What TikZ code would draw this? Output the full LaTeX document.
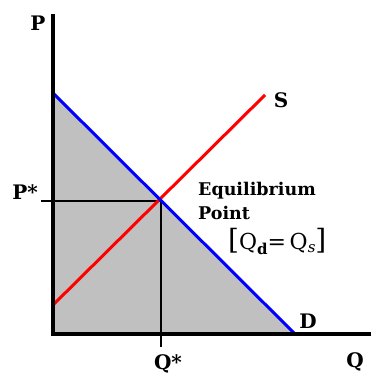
\documentclass[tikz,border=0pt]{standalone}
\usepackage{fontspec}
\setmainfont{DejaVu Serif}
\begin{document}
\begin{tikzpicture}[x=1pt,y=-1pt,
  axis/.style={line width=4pt},
  guide/.style={line width=2.5pt},
  curve/.style={line width=3pt},
  lbl/.style={font=\fontsize{20}{22}\selectfont\bfseries, inner sep=0pt},
  eq/.style={font=\fontsize{17.5}{24}\selectfont\bfseries, inner sep=0pt, align=left}]
\useasboundingbox (0,0) rectangle (371,379);
\coordinate (O) at (53,334);
\coordinate (Ptop) at (53,14);
\coordinate (Qend) at (371,334);
\coordinate (Dtop) at (53,93);
\coordinate (Dbot) at (295,334);
\coordinate (Sbot) at (53,305);
\coordinate (Stop) at (265,95);
\coordinate (E) at (161,201);
\coordinate (Ptick) at (41,201);
\coordinate (Qtick) at (161,347);
\fill[fill={rgb,255:red,192;green,192;blue,192}] (Dtop) -- (O) -- (Dbot) -- cycle;
\draw[guide] (Ptick) -- (E);
\draw[guide] (E) -- (Qtick);
\draw[curve, red] (Sbot) -- (Stop);
\draw[curve, blue] (Dtop) -- (Dbot);
\draw[axis] (Ptop) -- (53,336);
\draw[axis] (51,334) -- (Qend);
\node[lbl] (P) at (38,23) {P};
\node[lbl] (Pstar) at (25,192) {P*};
\node[lbl] (Qstar) at (168,364) {Q*};
\node[lbl] (Q) at (355,362) {Q};
\node[lbl] (D) at (308,321) {D};
\node[lbl] (S) at (281,100) {S};
\node[eq, anchor=base west] (eqlbl) at (198,219) {Equilibrium\\Point};
\node[inner sep=0pt, anchor=base west, font=\fontsize{22}{24}\selectfont] (cond) at (228,249) {{\fontsize{28}{28}\selectfont[}Q\raisebox{-5pt}{\fontsize{15}{15}\selectfont\bfseries d}=\,Q\raisebox{-3pt}{\fontsize{15}{15}\selectfont\itshape s}{\fontsize{28}{28}\selectfont]}};
\end{tikzpicture}
\end{document}
